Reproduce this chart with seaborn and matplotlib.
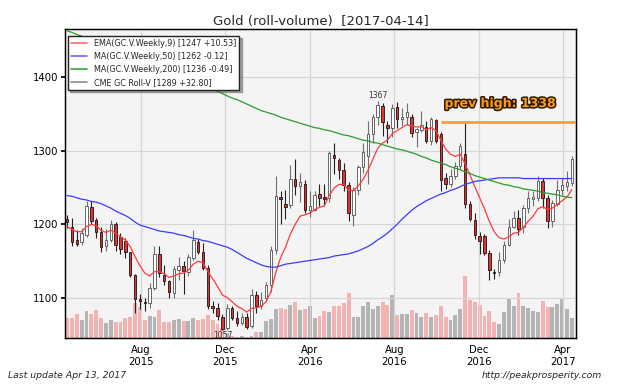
import numpy as np
import pandas as pd
import matplotlib
matplotlib.use("Agg")
import matplotlib.pyplot as plt
import matplotlib.dates as mdates
import matplotlib.patheffects as pe
from matplotlib.lines import Line2D
import seaborn as sns

# weekly bars, Friday dates
weeks = pd.date_range("2015-04-17", "2017-04-14", freq="W-FRI")

open_ = [1207, 1196, 1179, 1176, 1186, 1224, 1206, 1190, 1170, 1179,
         1200, 1183, 1178, 1162, 1132, 1099, 1095, 1094, 1114, 1160,
         1132, 1123, 1107, 1138, 1144, 1136, 1155, 1176, 1163, 1141,
         1090, 1087, 1075, 1060, 1086, 1073, 1066, 1075, 1062, 1104,
         1089, 1100, 1118, 1165, 1237, 1227, 1226, 1261, 1252, 1255,
         1220, 1220, 1241, 1237, 1235, 1294, 1287, 1274, 1253, 1213,
         1247, 1277, 1293, 1322, 1345, 1360, 1334, 1331, 1359, 1343,
         1345, 1346, 1325, 1328, 1332, 1313, 1341, 1322, 1263, 1255,
         1265, 1279, 1295, 1228, 1206, 1184, 1184, 1161, 1135, 1135,
         1152, 1172, 1197, 1209, 1196, 1222, 1234, 1236, 1259, 1236,
         1204, 1228, 1247, 1252, 1256]
high = [1213, 1209, 1192, 1195, 1232, 1232, 1208, 1196, 1193, 1206,
        1203, 1188, 1181, 1163, 1133, 1105, 1100, 1120, 1170, 1170,
        1145, 1125, 1143, 1156, 1150, 1160, 1192, 1180, 1175, 1145,
        1096, 1093, 1078, 1092, 1090, 1082, 1080, 1080, 1112, 1110,
        1108, 1122, 1170, 1265, 1245, 1247, 1280, 1288, 1270, 1260,
        1245, 1245, 1255, 1255, 1300, 1310, 1290, 1283, 1258, 1250,
        1280, 1310, 1340, 1350, 1367, 1365, 1340, 1363, 1366, 1358,
        1365, 1350, 1330, 1354, 1340, 1345, 1343, 1325, 1270, 1275,
        1285, 1310, 1338, 1232, 1215, 1190, 1187, 1165, 1140, 1162,
        1178, 1207, 1218, 1220, 1226, 1245, 1245, 1265, 1263, 1240,
        1233, 1260, 1263, 1272, 1292]
low = [1195, 1171, 1170, 1172, 1183, 1200, 1181, 1162, 1164, 1176,
       1164, 1160, 1155, 1128, 1080, 1085, 1083, 1087, 1111, 1128,
       1118, 1100, 1100, 1124, 1105, 1130, 1152, 1160, 1138, 1085,
       1080, 1070, 1057, 1057, 1070, 1062, 1064, 1058, 1060, 1080,
       1085, 1098, 1108, 1160, 1200, 1207, 1222, 1240, 1230, 1215,
       1210, 1218, 1225, 1225, 1230, 1268, 1262, 1245, 1205, 1198,
       1240, 1270, 1255, 1310, 1335, 1320, 1310, 1318, 1330, 1333,
       1335, 1318, 1305, 1325, 1310, 1308, 1310, 1245, 1248, 1250,
       1262, 1275, 1222, 1205, 1180, 1160, 1158, 1125, 1126, 1130,
       1148, 1170, 1195, 1185, 1188, 1215, 1225, 1232, 1222, 1195,
       1196, 1225, 1240, 1245, 1252]
close = [1203, 1176, 1174, 1188, 1225, 1205, 1190, 1169, 1179, 1201,
         1172, 1166, 1163, 1132, 1099, 1096, 1094, 1114, 1160, 1134,
         1123, 1109, 1140, 1144, 1137, 1156, 1179, 1163, 1141, 1090,
         1087, 1076, 1058, 1087, 1073, 1066, 1075, 1061, 1104, 1089,
         1097, 1118, 1165, 1238, 1234, 1224, 1261, 1252, 1257, 1220,
         1225, 1240, 1236, 1234, 1296, 1290, 1274, 1253, 1216, 1247,
         1277, 1298, 1322, 1345, 1362, 1338, 1331, 1358, 1343, 1346,
         1352, 1324, 1329, 1334, 1313, 1342, 1313, 1260, 1255, 1266,
         1279, 1306, 1228, 1207, 1186, 1177, 1161, 1138, 1134, 1152,
         1172, 1197, 1209, 1193, 1222, 1235, 1237, 1259, 1235, 1204,
         1229, 1247, 1253, 1257, 1289]
# roll volume, thousand contracts
volume = [200, 200, 240, 180, 276, 240, 280, 200, 150, 180,
          160, 160, 200, 210, 356, 316, 180, 220, 210, 280,
          160, 160, 180, 190, 176, 176, 200, 180, 190, 230,
          180, 140, 100, 50, 20, 15, 20, 17, 27, 60,
          60, 176, 190, 293, 300, 290, 330, 360, 280, 290,
          326, 200, 226, 276, 266, 320, 326, 356, 456, 210,
          216, 326, 360, 296, 320, 360, 336, 433, 230, 240,
          240, 280, 250, 216, 250, 216, 230, 326, 216, 186,
          230, 293, 626, 380, 366, 336, 226, 276, 166, 140,
          266, 400, 326, 450, 326, 306, 276, 266, 376, 310,
          310, 340, 390, 293, 200]
ema9 = [1197, 1193, 1190, 1190, 1197, 1200, 1198, 1192, 1189, 1192,
        1188, 1183, 1179, 1170, 1156, 1144, 1134, 1130, 1136, 1136,
        1133, 1128, 1130, 1133, 1134, 1138, 1146, 1150, 1148, 1136,
        1126, 1116, 1104, 1101, 1095, 1089, 1086, 1081, 1086, 1087,
        1089, 1095, 1109, 1135, 1155, 1169, 1187, 1200, 1211, 1213,
        1215, 1220, 1223, 1225, 1239, 1249, 1254, 1254, 1246, 1246,
        1252, 1261, 1273, 1288, 1303, 1310, 1314, 1323, 1327, 1331,
        1335, 1333, 1332, 1332, 1328, 1331, 1327, 1314, 1302, 1295,
        1292, 1295, 1282, 1267, 1251, 1236, 1221, 1204, 1190, 1182,
        1180, 1183, 1188, 1189, 1196, 1204, 1211, 1221, 1224, 1220,
        1222, 1227, 1232, 1237, 1247]
ma50 = [1239, 1238, 1236, 1234, 1233, 1231, 1230, 1228, 1225, 1222,
        1218, 1215, 1212, 1208, 1203, 1199, 1197, 1195, 1193, 1191,
        1190, 1189, 1188, 1186, 1185, 1183, 1181, 1180, 1178, 1177,
        1175, 1173, 1171, 1169, 1166, 1162, 1158, 1154, 1151, 1148,
        1145, 1143, 1142, 1142, 1144, 1146, 1147, 1148, 1149, 1150,
        1151, 1152, 1153, 1154, 1155, 1157, 1158, 1159, 1160, 1162,
        1164, 1167, 1170, 1174, 1179, 1183, 1188, 1194, 1200, 1207,
        1213, 1219, 1224, 1228, 1232, 1235, 1238, 1241, 1243, 1246,
        1248, 1251, 1254, 1256, 1258, 1259, 1260, 1261, 1262, 1263,
        1263, 1263, 1263, 1263, 1262, 1262, 1262, 1262, 1262, 1262,
        1262, 1262, 1262, 1262, 1262]
ma200 = [1462, 1460, 1457, 1455, 1452, 1450, 1448, 1445, 1443, 1440,
         1438, 1435, 1432, 1429, 1426, 1423, 1420, 1417, 1414, 1412,
         1409, 1406, 1404, 1401, 1399, 1396, 1393, 1391, 1388, 1386,
         1383, 1380, 1377, 1374, 1371, 1369, 1366, 1363, 1360, 1357,
         1354, 1352, 1350, 1348, 1345, 1343, 1341, 1339, 1337, 1335,
         1333, 1331, 1330, 1328, 1327, 1325, 1323, 1321, 1320, 1318,
         1316, 1314, 1313, 1311, 1310, 1308, 1306, 1304, 1302, 1301,
         1299, 1297, 1295, 1292, 1290, 1287, 1285, 1283, 1281, 1278,
         1276, 1274, 1271, 1269, 1266, 1264, 1262, 1260, 1258, 1256,
         1254, 1253, 1251, 1250, 1248, 1247, 1246, 1245, 1243, 1242,
         1241, 1240, 1238, 1237, 1236]

legend_labels = ["EMA(GC.V.Weekly,9) [1247 +10.53]",
                 "MA(GC.V.Weekly,50) [1262 -0.12]",
                 "MA(GC.V.Weekly,200) [1236 -0.49]",
                 "CME GC Roll-V [1289 +32.80]"]
high_idx, low_idx = 64, 32        # 1367 top / 1057 bottom labels
prev_high, prev_high_from = 1338, 77

df = pd.DataFrame({"open": open_, "high": high, "low": low, "close": close,
                   "volume": volume, "ema9": ema9, "ma50": ma50, "ma200": ma200},
                  index=weeks)

sns.set_theme(style="whitegrid")
plt.rcParams["font.family"] = ["DejaVu Sans"]

fig = plt.figure(figsize=(6.4, 3.84), dpi=100)
ax = fig.add_axes([0.1016, 0.119, 0.7984, 0.8055])
ax2 = ax.twinx()

# volume underneath
up = df["close"] >= df["open"]
vol_colors = np.where(up, "#b4b4b4", "#f4b3b3")
ax2.bar(df.index, df["volume"], width=5.6, color=vol_colors, linewidth=0)
ax2.set_ylim(0, 3093)
ax2.set_yticks([])
ax2.grid(False)
ax2.patch.set_visible(True)
ax2.set_facecolor("#f4f4f4")
ax.set_zorder(ax2.get_zorder() + 1)
ax.patch.set_visible(False)

# candles
body_lo = df[["open", "close"]].min(axis=1)
body_h = (df["close"] - df["open"]).abs().clip(lower=0.8)
wick_col = np.where(up, "#707070", "#202020")
ax.vlines(df.index, df["low"], df["high"], colors=wick_col, linewidth=0.8, zorder=3)
ax.bar(df.index, body_h, width=3.6, bottom=body_lo,
       color=np.where(up, "white", "#e8302f"),
       edgecolor=np.where(up, "#505050", "#151515"), linewidth=0.6, zorder=4)

# indicator lines
sns.lineplot(x=df.index, y=df["ema9"], ax=ax, color="#ff3b3b", linewidth=0.9, zorder=5)
sns.lineplot(x=df.index, y=df["ma50"], ax=ax, color="#3b3bff", linewidth=0.9, zorder=5)
sns.lineplot(x=df.index, y=df["ma200"], ax=ax, color="#2e9a2e", linewidth=0.9, zorder=5)

# previous high marker
xmax = pd.Timestamp("2017-04-20")
ax.hlines(prev_high, df.index[prev_high_from], xmax, color="#f7a040", linewidth=2, zorder=5)
ax.text(0.851, 0.759, f"prev high: {prev_high}", transform=ax.transAxes,
        ha="center", va="center", fontsize=9, fontweight="bold", color="#ff9a1c",
        path_effects=[pe.withStroke(linewidth=2.2, foreground="#2a1a00")], zorder=7)

ax.annotate(f"{df['high'].iloc[high_idx]}", (df.index[high_idx], df["high"].iloc[high_idx]),
            xytext=(0, 1), textcoords="offset points", ha="center", va="bottom",
            fontsize=5.5, color="#333333")
ax.annotate(f"{df['low'].iloc[low_idx]}", (df.index[low_idx], df["low"].iloc[low_idx]),
            xytext=(0, -1), textcoords="offset points", ha="center", va="top",
            fontsize=5.5, color="#333333")

ax.set_xlim(pd.Timestamp("2015-04-14"), xmax)
ax.set_ylim(1045.6, 1464.6)
ax.set_yticks([1100, 1200, 1300, 1400])
ax.xaxis.set_major_locator(mdates.MonthLocator(bymonth=[4, 8, 12]))
ax.xaxis.set_major_formatter(mdates.DateFormatter("%b\n%Y"))
ax.set_xlabel("")
ax.set_ylabel("")
ax.grid(True, color="#d6d6d6", linewidth=0.9)
ax.tick_params(labelsize=7.3, length=3, direction="out", colors="black", pad=2)
for a in (ax, ax2):
    for s in a.spines.values():
        s.set_color("black")
        s.set_linewidth(0.9)

handles = [Line2D([], [], color=c, linewidth=1.2)
           for c in ["#ff6a6a", "#6a6aff", "#40a040", "#8c8c8c"]]
leg = ax.legend(handles, legend_labels, loc="upper left", bbox_to_anchor=(0.006, 0.978),
                fontsize=5.8, shadow={"ox": 1.5, "oy": -1.5, "color": "0.35"},
                fancybox=False, framealpha=1, edgecolor="#222222", borderaxespad=0,
                handlelength=2.0)
leg.set_zorder(10)

ax.set_title("Gold (roll-volume)  [2017-04-14]", fontsize=9.5, pad=3)

fig.patch.set_facecolor("white")
fig.text(0.012, 0.023, "Last update Apr 13, 2017", style="italic", fontsize=6.7, va="center")
fig.text(0.94, 0.023, "http://peakprosperity.com", style="italic", fontsize=6.7,
         va="center", ha="right")

fig.savefig("out.png", dpi=100)
